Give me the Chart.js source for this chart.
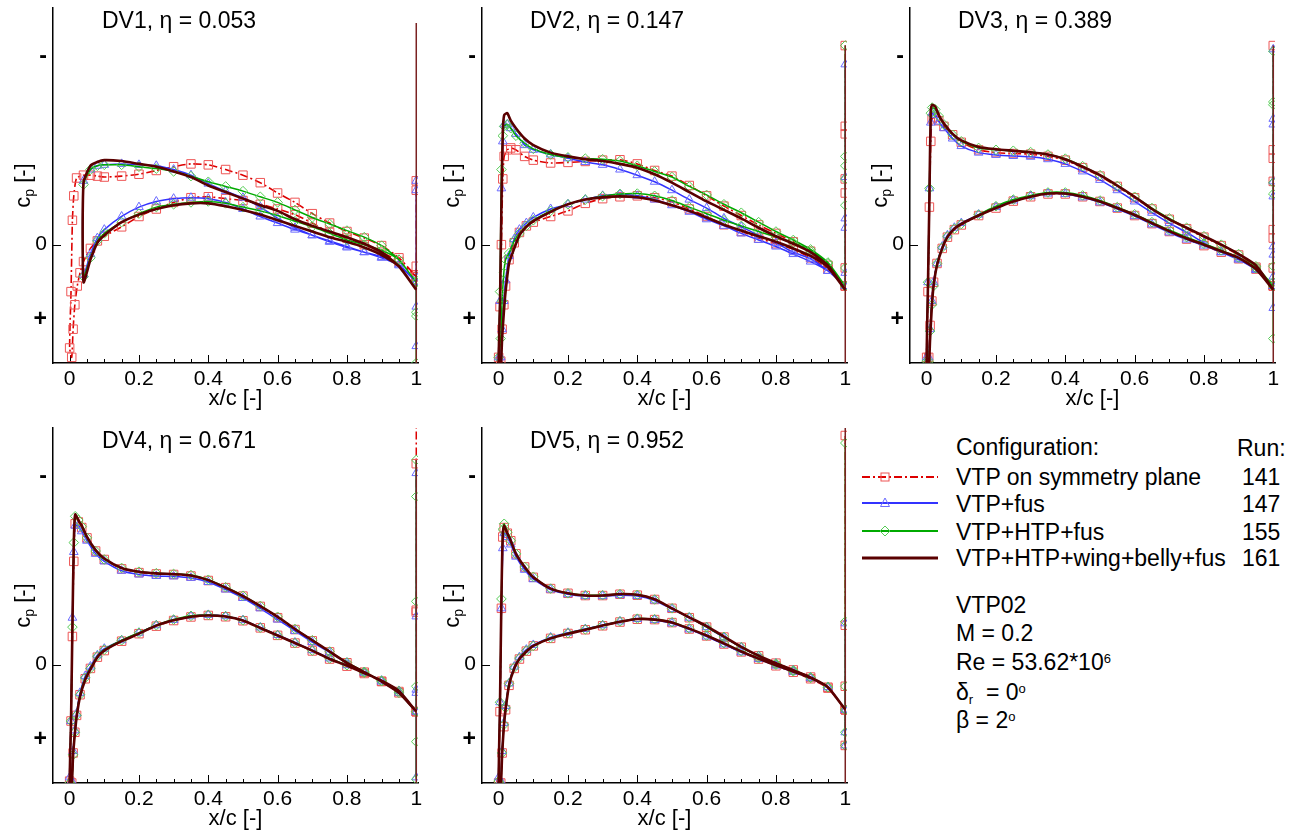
<!DOCTYPE html>
<html>
<head>
<meta charset="utf-8">
<script src="https://cdn.jsdelivr.net/npm/chart.js@4.4.1/dist/chart.umd.min.js"></script>
<style>
    html, body { margin: 0; padding: 0; background: #fff; overflow: hidden; }
    #wrap { position: relative; width: 1300px; height: 836px; overflow: hidden; font-family: "Liberation Sans", Arial, sans-serif; color: #000; }
    canvas { position: absolute; }
    .ptitle { position: absolute; font-size: 23px; line-height: 26px; white-space: nowrap; }
    .lg { position: absolute; font-size: 23px; line-height: 26px; white-space: nowrap; }
    .lg sup { font-size: 13px; position: relative; top: -3px; vertical-align: top; }
    .lg sub { font-size: 13px; position: relative; top: 8px; vertical-align: top; }
    .sample { position: absolute; }
</style>
</head>
<body>
<div id="wrap">
    <canvas id="dv1" width="429" height="420" style="left:0px;top:0px"></canvas>
    <canvas id="dv2" width="429" height="420" style="left:429px;top:0px"></canvas>
    <canvas id="dv3" width="429" height="420" style="left:857px;top:0px"></canvas>
    <canvas id="dv4" width="429" height="420" style="left:0px;top:420px"></canvas>
    <canvas id="dv5" width="429" height="420" style="left:429px;top:420px"></canvas>

    <div class="ptitle" style="left:102px;top:7px">DV1, η = 0.053</div>
    <div class="ptitle" style="left:530px;top:7px">DV2, η = 0.147</div>
    <div class="ptitle" style="left:958px;top:7px">DV3, η = 0.389</div>
    <div class="ptitle" style="left:102px;top:427px">DV4, η = 0.671</div>
    <div class="ptitle" style="left:530px;top:427px">DV5, η = 0.952</div>

    <!-- legend block -->
    <div class="lg" style="left:956px;top:434px">Configuration:</div>
    <div class="lg" style="left:1237px;top:435px">Run:</div>

    <svg class="sample" style="left:860px;top:471px" width="80" height="12">
        <line x1="2" y1="6" x2="78" y2="6" stroke="#dd0000" stroke-width="2" stroke-dasharray="8,3,2,3"/>
        <rect x="21" y="2" width="8" height="8" fill="none" stroke="#ee5555" stroke-width="1"/>
    </svg>
    <div class="lg" style="left:956px;top:464px">VTP on symmetry plane</div>
    <div class="lg" style="left:1242px;top:464px">141</div>

    <svg class="sample" style="left:860px;top:497px" width="80" height="12">
        <line x1="2" y1="6" x2="78" y2="6" stroke="#3333ff" stroke-width="2"/>
        <polygon points="25,1 29.5,9.5 20.5,9.5" fill="none" stroke="#6b6bff" stroke-width="1"/>
    </svg>
    <div class="lg" style="left:956px;top:491px">VTP+fus</div>
    <div class="lg" style="left:1242px;top:491px">147</div>

    <svg class="sample" style="left:860px;top:525px" width="80" height="12">
        <line x1="2" y1="6" x2="78" y2="6" stroke="#00aa00" stroke-width="2"/>
        <polygon points="25,1 30,6 25,11 20,6" fill="none" stroke="#55cc55" stroke-width="1"/>
    </svg>
    <div class="lg" style="left:956px;top:519px">VTP+HTP+fus</div>
    <div class="lg" style="left:1242px;top:519px">155</div>

    <svg class="sample" style="left:860px;top:552px" width="80" height="12">
        <line x1="2" y1="6" x2="78" y2="6" stroke="#5a0000" stroke-width="3"/>
    </svg>
    <div class="lg" style="left:956px;top:545px">VTP+HTP+wing+belly+fus</div>
    <div class="lg" style="left:1242px;top:545px">161</div>

    <div class="lg" style="left:956px;top:592px">VTP02</div>
    <div class="lg" style="left:956px;top:620px">M = 0.2</div>
    <div class="lg" style="left:956px;top:649px">Re = 53.62*10<sup>6</sup></div>
    <div class="lg" style="left:956px;top:679px">δ<sub>r</sub>&nbsp; = 0<sup>o</sup></div>
    <div class="lg" style="left:956px;top:707px">β = 2<sup>o</sup></div>
</div>

<script>
// Axis ticks
const X_TICKS = [0, 0.2, 0.4, 0.6, 0.8, 1];
const X_TICK_LABELS = ['0', '0.2', '0.4', '0.6', '0.8', '1'];
const X_MINOR_TICKS = [0.05, 0.1, 0.15, 0.25, 0.3, 0.35, 0.45, 0.5, 0.55, 0.65, 0.7, 0.75, 0.85, 0.9, 0.95];
const Y_TICKS = [-1, 0, 0.4];
const Y_TICK_LABELS = ['-', '0', '+'];

// x/c stations (DV1 has its own, the leading edge is cut there)
const xUpperDv1 = [0, 0.004, 0.008, 0.012, 0.02, 0.04, 0.06, 0.08, 0.1, 0.15, 0.2, 0.25, 0.3, 0.35, 0.4, 0.45, 0.5, 0.55, 0.6, 0.65, 0.7, 0.75, 0.8, 0.85, 0.9, 0.95, 1];
const xLowerDv1 = [0.006, 0.01, 0.015, 0.022, 0.03, 0.04, 0.06, 0.08, 0.1, 0.15, 0.2, 0.25, 0.3, 0.35, 0.4, 0.45, 0.5, 0.55, 0.6, 0.65, 0.7, 0.75, 0.8, 0.85, 0.9, 0.95, 1];
const xUpper = [0, 0.004, 0.008, 0.012, 0.016, 0.025, 0.035, 0.05, 0.075, 0.1, 0.15, 0.2, 0.25, 0.3, 0.35, 0.4, 0.45, 0.5, 0.55, 0.6, 0.65, 0.7, 0.75, 0.8, 0.85, 0.9, 0.95, 1];
const xLower = [0.006, 0.01, 0.015, 0.02, 0.03, 0.045, 0.06, 0.08, 0.1, 0.15, 0.2, 0.25, 0.3, 0.35, 0.4, 0.45, 0.5, 0.55, 0.6, 0.65, 0.7, 0.75, 0.8, 0.85, 0.9, 0.95, 1];

// DV1, eta = 0.053  (sym = run 141, fus = 147, htp = 155, full = 161)
const dv1SymUpper = [0.55, 0.25, -0.13, -0.26, -0.355, -0.37, -0.37, -0.365, -0.36, -0.365, -0.375, -0.395, -0.415, -0.43, -0.425, -0.40, -0.37, -0.33, -0.275, -0.225, -0.165, -0.115, -0.07, -0.035, 0.005, 0.07, 0.17];
const dv1FusUpper = [null, null, null, null, null, -0.34, -0.40, -0.42, -0.425, -0.43, -0.425, -0.42, -0.40, -0.37, -0.325, -0.285, -0.25, -0.2, -0.14, -0.09, -0.05, -0.015, 0.015, 0.04, 0.065, 0.105, 0.2];
const dv1HtpUpper = [null, null, null, null, null, -0.32, -0.40, -0.42, -0.425, -0.425, -0.415, -0.405, -0.39, -0.365, -0.335, -0.31, -0.285, -0.255, -0.225, -0.185, -0.145, -0.11, -0.075, -0.04, 0.005, 0.08, 0.2];
const dv1FullUpper = [null, null, null, null, null, -0.33, -0.42, -0.44, -0.45, -0.445, -0.43, -0.415, -0.39, -0.36, -0.315, -0.28, -0.245, -0.21, -0.18, -0.135, -0.10, -0.07, -0.04, -0.005, 0.04, 0.115, 0.24];
const dv1SymLower = [0.6, 0.45, 0.32, 0.22, 0.15, 0.09, 0.02, -0.02, -0.045, -0.095, -0.15, -0.19, -0.225, -0.25, -0.255, -0.245, -0.235, -0.215, -0.19, -0.16, -0.115, -0.065, -0.035, 0.0, 0.04, 0.09, 0.17];
const dv1FusLower = [null, null, null, null, null, 0.16, 0.05, -0.035, -0.08, -0.15, -0.2, -0.23, -0.245, -0.25, -0.245, -0.225, -0.19, -0.15, -0.115, -0.08, -0.05, -0.02, 0.01, 0.04, 0.07, 0.11, 0.2];
const dv1HtpLower = [null, null, null, null, null, 0.17, 0.07, -0.02, -0.06, -0.12, -0.165, -0.2, -0.215, -0.225, -0.23, -0.22, -0.2, -0.18, -0.155, -0.125, -0.095, -0.06, -0.025, 0.0, 0.03, 0.08, 0.2];
const dv1FullLower = [null, null, null, null, null, 0.2, 0.08, -0.01, -0.05, -0.12, -0.16, -0.19, -0.21, -0.22, -0.22, -0.205, -0.185, -0.16, -0.13, -0.1, -0.07, -0.04, -0.015, 0.015, 0.055, 0.115, 0.24];
const dv1SymTe = [0.17, 0.115, -0.29, -0.34];
const dv1FusTe = [0.2, 0.17, 0.33, 0.54, -0.29, -0.34];
const dv1HtpTe = [0.2, 0.19, 0.36, 0.38, 0.63];
const dv1FullTe = [0.24, 0.7, -1.18];

// DV2, eta = 0.147
const dv2SymUpper = [0.6, 0.33, 0.0, -0.35, -0.47, -0.505, -0.515, -0.505, -0.47, -0.45, -0.435, -0.438, -0.443, -0.45, -0.452, -0.43, -0.395, -0.365, -0.315, -0.26, -0.205, -0.155, -0.105, -0.06, -0.015, 0.035, 0.11, 0.22];
const dv2FusUpper = [0.6, 0.3, -0.3, -0.55, -0.64, -0.64, -0.62, -0.59, -0.53, -0.505, -0.48, -0.46, -0.44, -0.425, -0.40, -0.37, -0.335, -0.29, -0.24, -0.195, -0.14, -0.095, -0.05, -0.01, 0.04, 0.075, 0.14, 0.22];
const dv2HtpUpper = [0.6, 0.25, -0.4, -0.58, -0.63, -0.64, -0.62, -0.58, -0.54, -0.51, -0.48, -0.465, -0.458, -0.455, -0.445, -0.42, -0.39, -0.36, -0.31, -0.265, -0.215, -0.17, -0.12, -0.07, -0.025, 0.025, 0.095, 0.22];
const dv2FullUpper = [0.65, 0.3, -0.2, -0.6, -0.69, -0.70, -0.66, -0.62, -0.565, -0.53, -0.49, -0.47, -0.455, -0.445, -0.43, -0.41, -0.375, -0.33, -0.28, -0.23, -0.185, -0.14, -0.09, -0.045, -0.005, 0.04, 0.11, 0.24];
const dv2SymLower = [0.62, 0.45, 0.32, 0.22, 0.08, -0.01, -0.065, -0.1, -0.12, -0.15, -0.18, -0.22, -0.245, -0.255, -0.26, -0.25, -0.228, -0.19, -0.15, -0.106, -0.07, -0.035, -0.005, 0.025, 0.07, 0.13, 0.22];
const dv2FusLower = [0.6, 0.45, 0.3, 0.19, 0.06, -0.03, -0.08, -0.115, -0.145, -0.19, -0.215, -0.24, -0.26, -0.268, -0.26, -0.24, -0.21, -0.175, -0.135, -0.1, -0.06, -0.025, 0.01, 0.05, 0.09, 0.14, 0.22];
const dv2HtpLower = [0.5, 0.3, 0.15, 0.08, 0.045, -0.02, -0.06, -0.1, -0.13, -0.18, -0.215, -0.24, -0.258, -0.27, -0.272, -0.26, -0.235, -0.2, -0.165, -0.13, -0.1, -0.07, -0.04, -0.01, 0.035, 0.1, 0.22];
const dv2FullLower = [0.65, 0.5, 0.36, 0.25, 0.1, 0.02, -0.05, -0.095, -0.125, -0.175, -0.215, -0.24, -0.252, -0.257, -0.252, -0.235, -0.21, -0.18, -0.145, -0.106, -0.075, -0.045, -0.015, 0.02, 0.06, 0.12, 0.24];
const dv2SymTe = [0.22, 0.124, -0.275, -0.35, -0.59, -0.63, -1.06];
const dv2FusTe = [0.22, 0.15, -0.09, -0.14, -0.36, -0.96];
const dv2HtpTe = [0.22, 0.124, -0.21, -0.35, -0.42, -0.47, -1.06];
const dv2FullTe = [0.24, 0.7, -1.06];

// DV3, eta = 0.389
const dv3SymUpper = [0.6, 0.25, -0.2, -0.55, -0.67, -0.68, -0.66, -0.63, -0.585, -0.545, -0.505, -0.49, -0.485, -0.482, -0.47, -0.45, -0.41, -0.365, -0.31, -0.25, -0.19, -0.135, -0.085, -0.04, 0.005, 0.055, 0.12, 0.22];
const dv3FusUpper = [0.6, 0.2, -0.3, -0.65, -0.70, -0.69, -0.655, -0.62, -0.565, -0.525, -0.49, -0.478, -0.472, -0.468, -0.455, -0.43, -0.39, -0.345, -0.29, -0.23, -0.17, -0.115, -0.065, -0.01, 0.04, 0.08, 0.135, 0.22];
const dv3HtpUpper = [0.62, 0.2, -0.3, -0.7, -0.73, -0.72, -0.685, -0.64, -0.585, -0.55, -0.515, -0.505, -0.5, -0.493, -0.48, -0.458, -0.418, -0.37, -0.313, -0.255, -0.195, -0.14, -0.09, -0.045, 0.0, 0.05, 0.115, 0.22];
const dv3FullUpper = [0.65, 0.2, -0.25, -0.72, -0.745, -0.735, -0.69, -0.645, -0.59, -0.555, -0.52, -0.508, -0.5, -0.492, -0.48, -0.455, -0.415, -0.37, -0.315, -0.255, -0.19, -0.135, -0.09, -0.045, 0.0, 0.05, 0.11, 0.24];
const dv3SymLower = [0.6, 0.43, 0.3, 0.2, 0.1, 0.02, -0.04, -0.08, -0.105, -0.155, -0.195, -0.232, -0.255, -0.27, -0.27, -0.255, -0.23, -0.195, -0.155, -0.112, -0.07, -0.03, 0.005, 0.04, 0.075, 0.13, 0.22];
const dv3FusLower = [0.6, 0.45, 0.3, 0.2, 0.1, 0.01, -0.05, -0.09, -0.115, -0.16, -0.2, -0.235, -0.258, -0.272, -0.27, -0.252, -0.225, -0.19, -0.152, -0.108, -0.065, -0.027, 0.005, 0.04, 0.075, 0.13, 0.22];
const dv3HtpLower = [0.62, 0.46, 0.32, 0.22, 0.1, 0.015, -0.045, -0.085, -0.11, -0.16, -0.205, -0.24, -0.262, -0.278, -0.278, -0.262, -0.235, -0.2, -0.162, -0.12, -0.078, -0.04, -0.005, 0.03, 0.068, 0.125, 0.22];
const dv3FullLower = [0.66, 0.5, 0.33, 0.22, 0.11, 0.02, -0.04, -0.085, -0.11, -0.155, -0.195, -0.23, -0.255, -0.272, -0.272, -0.255, -0.23, -0.195, -0.158, -0.115, -0.072, -0.033, 0.0, 0.035, 0.07, 0.13, 0.24];
const dv3SymTe = [0.22, 0.124, -0.035, -0.08, -0.337, -0.46, -0.505, -1.06];
const dv3FusTe = [0.22, 0.17, 0.337, 0.053, 0.009, -0.257, -0.337, -0.64, -0.67, -1.04];
const dv3HtpTe = [0.22, 0.2, 0.5, 0.115, -0.27, -0.33, -0.745, -0.76, -1.03];
const dv3FullTe = [0.24, 0.7, -1.06];

// DV4, eta = 0.671
const dv4SymUpper = [0.62, 0.3, -0.15, -0.55, -0.75, -0.76, -0.73, -0.675, -0.605, -0.56, -0.51, -0.49, -0.483, -0.48, -0.472, -0.448, -0.41, -0.365, -0.31, -0.25, -0.187, -0.127, -0.068, -0.01, 0.04, 0.09, 0.15, 0.25];
const dv4FusUpper = [0.6, 0.3, -0.25, -0.6, -0.74, -0.74, -0.71, -0.66, -0.59, -0.55, -0.5, -0.48, -0.472, -0.47, -0.462, -0.44, -0.4, -0.355, -0.3, -0.24, -0.18, -0.12, -0.065, -0.01, 0.04, 0.09, 0.15, 0.25];
const dv4HtpUpper = [0.63, 0.3, -0.2, -0.65, -0.79, -0.77, -0.735, -0.675, -0.605, -0.56, -0.515, -0.495, -0.487, -0.483, -0.477, -0.452, -0.412, -0.367, -0.313, -0.255, -0.19, -0.13, -0.07, -0.012, 0.038, 0.088, 0.15, 0.25];
const dv4FullUpper = [0.66, 0.3, -0.2, -0.65, -0.8, -0.77, -0.74, -0.68, -0.61, -0.565, -0.515, -0.495, -0.486, -0.482, -0.475, -0.45, -0.41, -0.365, -0.312, -0.255, -0.19, -0.13, -0.07, -0.01, 0.04, 0.09, 0.15, 0.25];
const dv4SymLower = [0.63, 0.47, 0.36, 0.27, 0.16, 0.075, 0.02, -0.04, -0.075, -0.125, -0.165, -0.205, -0.235, -0.254, -0.262, -0.255, -0.234, -0.196, -0.156, -0.115, -0.073, -0.03, 0.008, 0.047, 0.088, 0.143, 0.25];
const dv4FusLower = [0.62, 0.46, 0.35, 0.26, 0.15, 0.06, 0.01, -0.05, -0.085, -0.13, -0.17, -0.21, -0.238, -0.258, -0.265, -0.258, -0.237, -0.198, -0.158, -0.118, -0.077, -0.033, 0.003, 0.043, 0.085, 0.14, 0.25];
const dv4HtpLower = [0.64, 0.48, 0.36, 0.27, 0.16, 0.07, 0.02, -0.045, -0.08, -0.13, -0.17, -0.21, -0.24, -0.26, -0.265, -0.258, -0.236, -0.197, -0.157, -0.115, -0.075, -0.033, 0.003, 0.043, 0.085, 0.14, 0.25];
const dv4FullLower = [0.64, 0.48, 0.37, 0.28, 0.17, 0.08, 0.025, -0.04, -0.075, -0.125, -0.165, -0.208, -0.236, -0.255, -0.262, -0.256, -0.235, -0.195, -0.155, -0.115, -0.075, -0.03, 0.005, 0.045, 0.085, 0.14, 0.25];
const dv4SymTe = [0.25, -0.28, -0.29, -1.07, -1.3];
const dv4FusTe = [0.25, 0.15, 0.133, 0.6, -0.257, -1.02];
const dv4HtpTe = [0.25, 0.115, 0.41, 0.61, -0.337, -0.895, -1.09];
const dv4FullTe = [0.25, 0.7, -1.09];

// DV5, eta = 0.952
const dv5SymUpper = [0.63, 0.25, -0.3, -0.68, -0.73, -0.7, -0.66, -0.59, -0.52, -0.465, -0.405, -0.38, -0.368, -0.368, -0.375, -0.37, -0.347, -0.3, -0.25, -0.2, -0.147, -0.093, -0.047, -0.008, 0.028, 0.066, 0.12, 0.24];
const dv5FusUpper = [0.6, 0.2, -0.3, -0.62, -0.7, -0.68, -0.64, -0.575, -0.505, -0.455, -0.4, -0.375, -0.365, -0.365, -0.37, -0.366, -0.342, -0.296, -0.25, -0.2, -0.145, -0.092, -0.046, -0.006, 0.03, 0.068, 0.12, 0.24];
const dv5HtpUpper = [0.62, 0.2, -0.35, -0.72, -0.75, -0.705, -0.66, -0.59, -0.52, -0.468, -0.405, -0.38, -0.37, -0.37, -0.376, -0.372, -0.347, -0.3, -0.252, -0.2, -0.148, -0.092, -0.046, -0.006, 0.03, 0.068, 0.12, 0.24];
const dv5FullUpper = [0.65, 0.2, -0.35, -0.7, -0.74, -0.7, -0.66, -0.59, -0.52, -0.465, -0.405, -0.38, -0.368, -0.368, -0.376, -0.372, -0.348, -0.3, -0.252, -0.205, -0.15, -0.095, -0.048, -0.008, 0.03, 0.068, 0.12, 0.24];
const dv5SymLower = [0.63, 0.47, 0.33, 0.24, 0.11, 0.02, -0.03, -0.072, -0.1, -0.14, -0.166, -0.186, -0.207, -0.227, -0.242, -0.24, -0.224, -0.19, -0.153, -0.11, -0.068, -0.03, 0.006, 0.04, 0.075, 0.125, 0.24];
const dv5FusLower = [0.62, 0.46, 0.31, 0.22, 0.1, 0.01, -0.04, -0.08, -0.105, -0.145, -0.17, -0.19, -0.21, -0.23, -0.243, -0.238, -0.22, -0.188, -0.15, -0.108, -0.066, -0.03, 0.005, 0.038, 0.072, 0.12, 0.24];
const dv5HtpLower = [0.64, 0.47, 0.32, 0.23, 0.1, 0.015, -0.035, -0.075, -0.1, -0.142, -0.168, -0.188, -0.21, -0.23, -0.245, -0.242, -0.226, -0.193, -0.155, -0.115, -0.072, -0.034, 0.0, 0.035, 0.07, 0.12, 0.24];
const dv5FullLower = [0.65, 0.48, 0.33, 0.24, 0.11, 0.02, -0.03, -0.07, -0.1, -0.14, -0.165, -0.186, -0.208, -0.228, -0.243, -0.24, -0.225, -0.192, -0.155, -0.113, -0.07, -0.032, 0.003, 0.036, 0.07, 0.12, 0.24];
const dv5SymTe = [0.24, 0.115, 0.43, -0.21, -1.22];
const dv5FusTe = [0.24, 0.36, 0.43, -0.22];
const dv5HtpTe = [0.24, 0.115, 0.36, 0.43, -0.23, -1.18];
const dv5FullTe = [0.24, 0.7, -1.27];

// Series styles (higher order is drawn first, so 161 ends on top)
const SERIES = [
    { key: 'sym',  label: 'VTP on symmetry plane',   color: '#dd0000', width: 1.6, dash: [8, 3, 2, 3], marker: 'rect',     radius: 6,   markerColor: '#ee5555', order: 4 },
    { key: 'fus',  label: 'VTP+fus',                 color: '#3333ff', width: 1.5, dash: [],           marker: 'triangle', radius: 5,   markerColor: '#6b6bff', order: 3 },
    { key: 'htp',  label: 'VTP+HTP+fus',             color: '#00aa00', width: 1.5, dash: [],           marker: 'rectRot',  radius: 4.8, markerColor: '#55cc55', order: 2 },
    { key: 'full', label: 'VTP+HTP+wing+belly+fus',  color: '#5a0000', width: 2.6, dash: [],           marker: false,      radius: 0,   markerColor: '#5a0000', order: 0 }
];

const PANELS = [
    { id: 'dv1', xUpper: xUpperDv1, xLower: xLowerDv1,
      sym: { upper: dv1SymUpper, lower: dv1SymLower, te: dv1SymTe }, fus: { upper: dv1FusUpper, lower: dv1FusLower, te: dv1FusTe },
      htp: { upper: dv1HtpUpper, lower: dv1HtpLower, te: dv1HtpTe }, full: { upper: dv1FullUpper, lower: dv1FullLower, te: dv1FullTe } },
    { id: 'dv2', xUpper: xUpper, xLower: xLower,
      sym: { upper: dv2SymUpper, lower: dv2SymLower, te: dv2SymTe }, fus: { upper: dv2FusUpper, lower: dv2FusLower, te: dv2FusTe },
      htp: { upper: dv2HtpUpper, lower: dv2HtpLower, te: dv2HtpTe }, full: { upper: dv2FullUpper, lower: dv2FullLower, te: dv2FullTe } },
    { id: 'dv3', xUpper: xUpper, xLower: xLower,
      sym: { upper: dv3SymUpper, lower: dv3SymLower, te: dv3SymTe }, fus: { upper: dv3FusUpper, lower: dv3FusLower, te: dv3FusTe },
      htp: { upper: dv3HtpUpper, lower: dv3HtpLower, te: dv3HtpTe }, full: { upper: dv3FullUpper, lower: dv3FullLower, te: dv3FullTe } },
    { id: 'dv4', xUpper: xUpper, xLower: xLower,
      sym: { upper: dv4SymUpper, lower: dv4SymLower, te: dv4SymTe }, fus: { upper: dv4FusUpper, lower: dv4FusLower, te: dv4FusTe },
      htp: { upper: dv4HtpUpper, lower: dv4HtpLower, te: dv4HtpTe }, full: { upper: dv4FullUpper, lower: dv4FullLower, te: dv4FullTe } },
    { id: 'dv5', xUpper: xUpper, xLower: xLower,
      sym: { upper: dv5SymUpper, lower: dv5SymLower, te: dv5SymTe }, fus: { upper: dv5FusUpper, lower: dv5FusLower, te: dv5FusTe },
      htp: { upper: dv5HtpUpper, lower: dv5HtpLower, te: dv5HtpTe }, full: { upper: dv5FullUpper, lower: dv5FullLower, te: dv5FullTe } }
];

const FONT = '"Liberation Sans", Arial, sans-serif';

// Small inward tick marks like the original plot
const inwardTicks = {
    id: 'inwardTicks',
    beforeDatasetsDraw(chart) {
        const { ctx, chartArea, scales: { x, y } } = chart;
        ctx.save();
        ctx.strokeStyle = '#000';
        ctx.lineWidth = 1;
        ctx.beginPath();
        X_TICKS.forEach(v => {
            const px = Math.round(x.getPixelForValue(v)) + 0.5;
            ctx.moveTo(px, chartArea.bottom);
            ctx.lineTo(px, chartArea.bottom - 8);
        });
        X_MINOR_TICKS.forEach(v => {
            const px = Math.round(x.getPixelForValue(v)) + 0.5;
            ctx.moveTo(px, chartArea.bottom);
            ctx.lineTo(px, chartArea.bottom - 4);
        });
        const py = Math.round(y.getPixelForValue(0)) + 0.5;
        ctx.moveTo(chartArea.left, py);
        ctx.lineTo(chartArea.left + 8, py);
        ctx.stroke();
        ctx.restore();
    }
};

// y axis title "c_p [-]" with a real subscript
const cpTitle = {
    id: 'cpTitle',
    afterDraw(chart) {
        const { ctx, chartArea } = chart;
        const cy = (chartArea.top + chartArea.bottom) / 2;
        ctx.save();
        ctx.translate(24, cy);
        ctx.rotate(-Math.PI / 2);
        ctx.fillStyle = '#000';
        ctx.textBaseline = 'middle';
        ctx.textAlign = 'left';
        ctx.font = '22px ' + FONT;
        const wc = ctx.measureText('c').width;
        const wr = ctx.measureText(' [-]').width;
        ctx.font = '14px ' + FONT;
        const wp = ctx.measureText('p').width;
        let x0 = -(wc + wp + wr) / 2;
        ctx.font = '22px ' + FONT;
        ctx.fillText('c', x0, 0);
        ctx.font = '14px ' + FONT;
        ctx.fillText('p', x0 + wc, 6);
        ctx.font = '22px ' + FONT;
        ctx.fillText(' [-]', x0 + wc + wp, 0);
        ctx.restore();
    }
};

// Lower surface from TE to LE, then upper surface back to TE
function buildLoop(xu, cu, xl, cl) {
    if (xu.length !== cu.length || xl.length !== cl.length) {
        console.warn('length mismatch', xu.length, cu.length, xl.length, cl.length);
    }
    const pts = [];
    for (let i = xl.length - 1; i >= 0; i--) {
        if (cl[i] !== null && cl[i] !== undefined) pts.push({ x: xl[i], y: cl[i] });
    }
    for (let i = 0; i < xu.length; i++) {
        if (cu[i] !== null && cu[i] !== undefined) pts.push({ x: xu[i], y: cu[i] });
    }
    return pts;
}

function makePanel(panel) {
    const datasets = [];
    SERIES.forEach(s => {
        const d = panel[s.key];
        datasets.push({
            label: s.label,
            data: buildLoop(panel.xUpper, d.upper, panel.xLower, d.lower),
            showLine: true,
            borderColor: s.color,
            borderWidth: s.width,
            borderDash: s.dash,
            tension: 0.2,
            pointStyle: s.marker || 'circle',
            pointRadius: s.marker ? s.radius : 0,
            pointBorderColor: s.markerColor,
            pointBackgroundColor: 'rgba(0,0,0,0)',
            pointBorderWidth: 1,
            order: s.order
        });
        // trailing edge points sit on x/c = 1
        const isFull = s.key === 'full';
        datasets.push({
            label: s.label + ' TE',
            data: d.te.map(v => ({ x: 1, y: v })),
            showLine: true,
            borderColor: isFull ? '#7a2222' : s.color,
            borderWidth: 1.5,
            borderDash: s.dash,
            tension: 0,
            pointStyle: s.marker || 'circle',
            pointRadius: s.marker ? s.radius : 0,
            pointBorderColor: s.markerColor,
            pointBackgroundColor: 'rgba(0,0,0,0)',
            pointBorderWidth: 1,
            order: isFull ? 1 : s.order + 4
        });
    });

    return new Chart(document.getElementById(panel.id), {
        type: 'scatter',
        data: { datasets: datasets },
        options: {
            responsive: false,
            animation: false,
            devicePixelRatio: 1,
            events: [],
            layout: { padding: { top: 8, right: 11, left: 0, bottom: 0 } },
            plugins: {
                legend: { display: false },
                tooltip: { enabled: false }
            },
            scales: {
                x: {
                    type: 'linear',
                    min: -0.048,
                    max: 1.005,
                    afterBuildTicks: sc => { sc.ticks = X_TICKS.map(v => ({ value: v })); },
                    afterFit: sc => { sc.height = 57; sc.paddingLeft = 0; sc.paddingRight = 0; },
                    grid: { display: false, drawTicks: false },
                    border: { display: true, color: '#000', width: 1.5 },
                    ticks: {
                        padding: 4,
                        color: '#000',
                        autoSkip: false,
                        maxRotation: 0,
                        font: { size: 21, family: FONT },
                        callback: (v, i) => X_TICK_LABELS[i]
                    },
                    title: {
                        display: true,
                        text: 'x/c [-]',
                        color: '#000',
                        font: { size: 22, family: FONT },
                        padding: { top: 0, bottom: 8 }
                    }
                },
                y: {
                    type: 'linear',
                    reverse: true,
                    min: -1.26,
                    max: 0.63,
                    afterBuildTicks: sc => { sc.ticks = Y_TICKS.map(v => ({ value: v })); },
                    afterFit: sc => { sc.width = 53; sc.paddingTop = 0; sc.paddingBottom = 0; },
                    grid: { display: false, drawTicks: false },
                    border: { display: true, color: '#000', width: 1.5 },
                    ticks: {
                        padding: 6,
                        color: '#000',
                        autoSkip: false,
                        callback: (v, i) => Y_TICK_LABELS[i],
                        font: ctx => {
                            const sign = ctx.tick && ctx.tick.value !== 0;
                            return { size: sign ? 23 : 21, weight: sign ? 'bold' : 'normal', family: FONT };
                        }
                    }
                }
            }
        },
        plugins: [inwardTicks, cpTitle]
    });
}

document.addEventListener('DOMContentLoaded', function() {
    Chart.defaults.font.family = FONT;
    Chart.defaults.color = '#000';
    PANELS.forEach(p => makePanel(p));
});
</script>
</body>
</html>
